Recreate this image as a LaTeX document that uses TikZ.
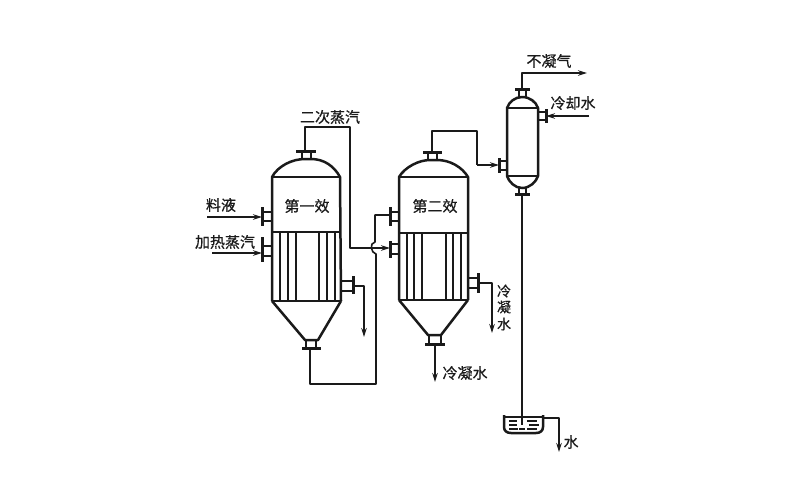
\documentclass[tikz,border=0pt]{standalone}
\usepackage{fontspec}
\setmainfont[AutoFakeBold=0.6]{Noto Sans CJK SC}
\usetikzlibrary{arrows.meta}
\definecolor{ink}{HTML}{1A1A1A}
\tikzset{
  wall/.style={draw=ink,line width=2.5pt,line join=round},
  flange/.style={draw=ink,line width=3pt},
  tube/.style={draw=ink,line width=2.2pt},
  pipe/.style={draw=ink,line width=1.6pt,line join=round},
  flow/.style={pipe,-{Stealth[length=9pt,width=5.5pt]}},
  label/.style={inner sep=0pt,font=\fontsize{15}{15}\selectfont\bfseries,text=ink},
  vlabel/.style={label,font=\fontsize{14}{14}\selectfont\bfseries},
}
\begin{document}
\begin{tikzpicture}[x=1pt,y=-1pt]
\useasboundingbox (0,0) rectangle (800,496);
% ---------- first effect
\draw[wall] (272,301) -- (272,177) .. controls (278,166) and (292,159) .. (305,159) -- (311,159) .. controls (324,159) and (334,166) .. (340,177) -- (341,301);
\draw[wall] (272,177) -- (340,177);
\draw[wall] (272,232) -- (341,232);
\draw[wall] (272,301) -- (341,301);
\draw[wall] (272,301) -- (305,340) -- (318,340) -- (341,301);
\foreach \t in {280,288,296,319,327,335} \draw[tube] (\t,232) -- (\t,301);
% top nozzle
\draw[wall] (302,159) -- (302,151) (311,159) -- (311,151);
\draw[flange] (296,151) -- (316,151);
% left nozzles
\draw[wall] (272,212) -- (262,212) (272,221) -- (262,221);
\draw[flange] (262,207) -- (262,226);
\draw[wall] (272,246) -- (262,246) (272,256) -- (262,256);
\draw[flange] (262,237) -- (262,262);
% right nozzle
\draw[wall] (341,281) -- (353,281) (341,291) -- (353,291);
\draw[flange] (353,276) -- (353,294);
% bottom nozzle
\draw[wall] (306,340) -- (306,348) (316,340) -- (316,348);
\draw[flange] (302,348) -- (321,348);
% ---------- second effect
\draw[wall] (399,300) -- (399,177) .. controls (405,167) and (419,160) .. (430,160) -- (437,160) .. controls (450,160) and (462,167) .. (468,177) -- (468,300);
\draw[wall] (399,177) -- (468,177);
\draw[wall] (399,233) -- (468,233);
\draw[wall] (399,300) -- (468,300);
\draw[wall] (399,300) -- (428,335) -- (441,335) -- (468,300);
\foreach \t in {407,414,422,446,453,461} \draw[tube] (\t,233) -- (\t,300);
\draw[wall] (428,160) -- (428,152) (437,160) -- (437,152);
\draw[flange] (423,152) -- (442,152);
\draw[wall] (399,212) -- (390,212) (399,221) -- (390,221);
\draw[flange] (390,207) -- (390,226);
\draw[wall] (399,244) -- (390,244) (399,254) -- (390,254);
\draw[flange] (390,241) -- (390,258);
\draw[wall] (468,278) -- (478,278) (468,288) -- (478,288);
\draw[flange] (478,273) -- (478,293);
\draw[wall] (429,335) -- (429,344) (441,335) -- (441,344);
\draw[flange] (425,344) -- (445,344);
% ---------- condenser
\draw[wall] (507,176) -- (507,108) .. controls (509,102) and (515,97) .. (522,97) .. controls (530,97) and (536,102) .. (538,108) -- (538,176) .. controls (536,182) and (530,188) .. (522,188) .. controls (515,188) and (509,182) .. (507,176);
\draw[wall] (507,108) -- (538,108);
\draw[wall] (507,176) -- (538,176);
\draw[wall] (519,97) -- (519,89) (526,97) -- (526,89);
\draw[flange] (515,89) -- (530,89);
\draw[wall] (519,188) -- (519,194) (526,188) -- (526,194);
\draw[flange] (515,194) -- (530,194);
\draw[wall] (507,161) -- (499,161) (507,170) -- (499,170);
\draw[flange] (499,158) -- (499,173);
\draw[wall] (538,112) -- (546,112) (538,120) -- (546,120);
\draw[flange] (546,109) -- (546,123);
% ---------- tank
\draw[wall] (504,415) -- (504,427) .. controls (504,431) and (507,433) .. (511,433) -- (536,433) .. controls (540,433) and (543,431) .. (543,427) -- (543,415);
\draw[pipe] (504,417) -- (543,417);
\draw[tube,line width=1.3pt] (509,421)--(517,421) (509,425)--(517,425) (509,429)--(518,429)
  (527,421)--(537,421) (529,425)--(539,425) (527,429)--(537,429) (519,429)--(525,429);
% ---------- pipes
\draw[pipe] (305,151) -- (305,127) -- (350,127) -- (350,248) -- (370,248);
\draw[pipe] (310,348) -- (310,384) -- (376,384) -- (376,254) .. controls (371,253) and (369,243) .. (375,242) -- (375,215) -- (390,215);
\draw[flow] (370,248) -- (390,248);
\draw[flow] (207,217) -- (262,217);
\draw[flow] (212,253) -- (262,253);
\draw[flow] (353,286) -- (364,286) -- (364,337);
\draw[pipe] (432,152) -- (432,131) -- (477,131) -- (477,165);
\draw[flow] (477,165) -- (499,165);
\draw[flow] (478,283) -- (492,283) -- (492,333);
\draw[flow] (435,344) -- (435,382);
\draw[flow] (522,89) -- (522,73) -- (587,73);
\draw[flow] (589,116) -- (546,116);
\draw[pipe] (522,194) -- (522,425);
\draw[flow] (543,418) -- (559,418) -- (559,452);
% ---------- labels
\node[label] (l1) at (330,117) {二次蒸汽};
\node[label] (l2) at (307,206) {第一效};
\node[label] (l3) at (221,205) {料液};
\node[label] (l4) at (225,242) {加热蒸汽};
\node[label] (l5) at (435,206) {第二效};
\node[vlabel] (l6) at (504,291) {冷};
\node[vlabel] (l7) at (504,307) {凝};
\node[vlabel] (l8) at (504,324) {水};
\node[label] (l9) at (465,373) {冷凝水};
\node[label] (l10) at (549,61) {不凝气};
\node[label] (l11) at (573,103) {冷却水};
\node[label] (l12) at (571,442) {水};
\end{tikzpicture}
\end{document}
